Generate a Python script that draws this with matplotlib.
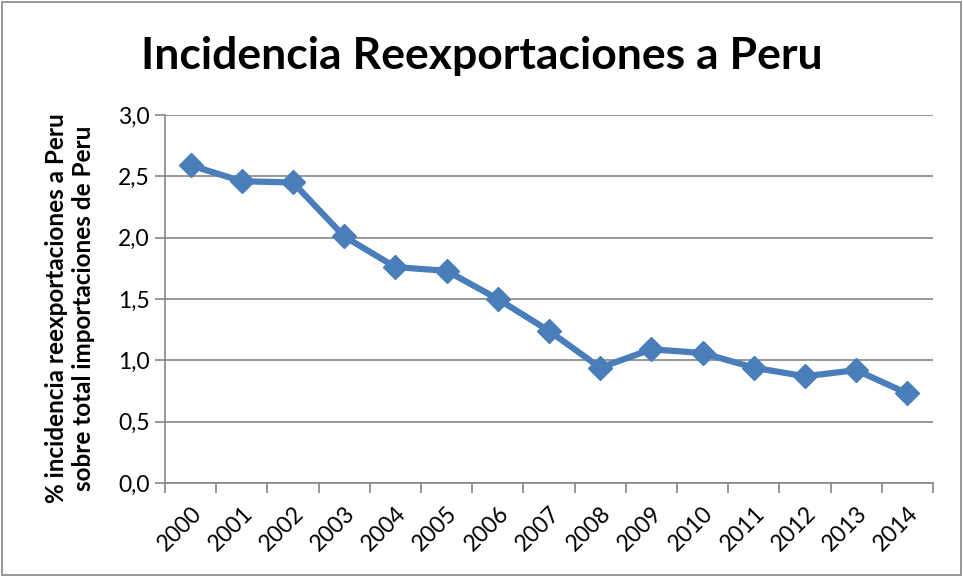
import matplotlib
matplotlib.use("Agg")
import matplotlib.pyplot as plt
from matplotlib.ticker import FixedLocator, FuncFormatter
from matplotlib.patches import Rectangle

years = ["2000", "2001", "2002", "2003", "2004", "2005", "2006", "2007",
         "2008", "2009", "2010", "2011", "2012", "2013", "2014"]
values = [2.59, 2.46, 2.45, 2.01, 1.76, 1.73, 1.50, 1.24,
          0.94, 1.09, 1.06, 0.94, 0.87, 0.92, 0.73]
yticks = [0.0, 0.5, 1.0, 1.5, 2.0, 2.5, 3.0]

title = "Incidencia Reexportaciones a Peru"
ylabel = "% incidencia reexportaciones a Peru\nsobre total importaciones de Peru"

plt.rcParams['font.family'] = ['Lato', 'DejaVu Sans']

fig = plt.figure(figsize=(9.63, 5.77), dpi=100)
ax = fig.add_axes([165/963, 1-483/577, (933-165)/963, (483-115)/577])

x = list(range(len(years)))
ax.plot(x, values, color='#4A7EBB', lw=4.5, marker='D', markersize=12,
        markerfacecolor='#4A7EBB', markeredgecolor='#4A7EBB', zorder=3,
        solid_joinstyle='round')

ax.set_xlim(-0.5, len(years) - 0.5)
ax.set_ylim(0, 3.0)
ax.set_yticks(yticks)
ax.yaxis.set_major_formatter(FuncFormatter(lambda v, p: f"{v:.1f}".replace('.', ',')))
ax.grid(axis='y', color='#868686', lw=1.2)
ax.set_axisbelow(True)

ax.set_xticks(x)
ax.set_xticklabels(years, rotation=45, ha='right', rotation_mode='anchor', fontsize=16.5)
ax.tick_params(axis='x', which='major', length=0, pad=14)
ax.xaxis.set_minor_locator(FixedLocator([i - 0.5 for i in range(len(years) + 1)]))
ax.tick_params(axis='x', which='minor', length=7, color='#868686', width=1.2)
ax.tick_params(axis='y', length=7, color='#868686', width=1.2, labelsize=16.5, pad=4)

for s in ['top', 'right']:
    ax.spines[s].set_visible(False)
for s in ['left', 'bottom']:
    ax.spines[s].set_color('#868686')
    ax.spines[s].set_linewidth(1.2)

fig.text(70/963, 1-308/577, ylabel, ha='center', va='center', rotation=90,
         fontsize=17.5, fontweight='bold', linespacing=1.2, multialignment='center')
fig.text(482/963, 1-56/577, title, ha='center', va='center', fontsize=32, fontweight='bold')

fig.patches.append(Rectangle((0.002, 0.003), 0.996, 0.994, transform=fig.transFigure,
                             fill=False, edgecolor='#868686', lw=1.2))

fig.savefig("out.png", dpi=100)
